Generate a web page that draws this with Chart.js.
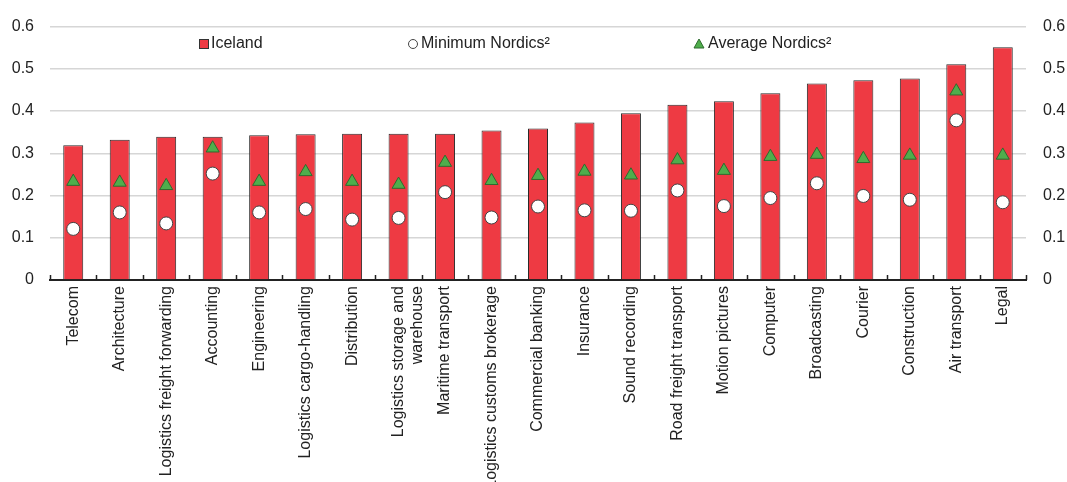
<!DOCTYPE html>
<html>
<head>
<meta charset="utf-8">
<script src="https://cdn.jsdelivr.net/npm/chart.js@4.4.1/dist/chart.umd.min.js"></script>
<style>
  html, body { margin: 0; padding: 0; background: #fff; }
  #wrap { width: 1067px; height: 482px; }
</style>
</head>
<body>
<div id="wrap"><canvas id="chart"></canvas></div>
<script>
// categories, sorted by Iceland value
const sectors = [
  'Telecom', 'Architecture', 'Logistics freight forwarding', 'Accounting', 'Engineering',
  'Logistics cargo-handling', 'Distribution', ['Logistics storage and', 'warehouse'],
  'Maritime transport', 'Logistics customs brokerage', 'Commercial banking', 'Insurance',
  'Sound recording', 'Road freight transport', 'Motion pictures', 'Computer',
  'Broadcasting', 'Courier', 'Construction', 'Air transport', 'Legal'
];
const iceland = [0.319, 0.332, 0.339, 0.339, 0.343, 0.345, 0.346, 0.346, 0.346, 0.354, 0.359,
  0.373, 0.395, 0.415, 0.423, 0.442, 0.465, 0.473, 0.477, 0.511, 0.551];
const minNordics = [0.121, 0.160, 0.134, 0.252, 0.160, 0.168, 0.143, 0.147, 0.208, 0.148, 0.174,
  0.165, 0.164, 0.212, 0.175, 0.194, 0.229, 0.199, 0.190, 0.378, 0.184];
const avgNordics = [0.233, 0.231, 0.223, 0.312, 0.233, 0.256, 0.233, 0.226, 0.278, 0.235, 0.247,
  0.257, 0.248, 0.284, 0.259, 0.292, 0.297, 0.287, 0.295, 0.447, 0.295];
const yMin = 0, yMax = 0.6, yStep = 0.1;

const FONT = "'Liberation Sans Narrow', 'Arial Narrow', 'Liberation Sans', Arial, sans-serif";
const RED = '#ee3a43';
const GREEN = '#4fae4c';
Chart.defaults.font.family = FONT;
Chart.defaults.color = '#222';

// small up-ticks on the x axis at category boundaries
const boundaryTicks = {
  id: 'boundaryTicks',
  afterDraw(chart) {
    const x = chart.scales.x, ctx = chart.ctx;
    const n = sectors.length, w = (x.right - x.left) / n;
    ctx.save();
    ctx.strokeStyle = '#222';
    ctx.lineWidth = 1.5;
    ctx.beginPath();
    for (let i = 0; i <= n; i++) {
      const px = Math.round(x.left + i * w) + 0.5;
      ctx.moveTo(px, x.top);
      ctx.lineTo(px, x.top - 5);
    }
    ctx.stroke();
    ctx.restore();
  }
};

// legend laid out inside the plot, between the top gridlines
const innerLegend = {
  id: 'innerLegend',
  afterDraw(chart) {
    const ctx = chart.ctx, y = 44;
    ctx.save();
    ctx.font = '16px ' + FONT;
    ctx.textBaseline = 'middle';
    // Iceland
    ctx.fillStyle = RED; ctx.strokeStyle = '#333'; ctx.lineWidth = 1;
    ctx.fillRect(199, y - 5, 10, 10); ctx.strokeRect(199.5, y - 4.5, 9, 9);
    ctx.fillStyle = '#222'; ctx.fillText('Iceland', 211, y);
    // Minimum Nordics
    ctx.beginPath(); ctx.arc(413, y, 4.5, 0, Math.PI * 2);
    ctx.fillStyle = '#fff'; ctx.fill(); ctx.strokeStyle = '#444'; ctx.stroke();
    ctx.fillStyle = '#222'; ctx.fillText('Minimum Nordics²', 421, y);
    // Average Nordics
    ctx.beginPath(); ctx.moveTo(699, y - 5); ctx.lineTo(704, y + 4); ctx.lineTo(694, y + 4); ctx.closePath();
    ctx.fillStyle = GREEN; ctx.fill(); ctx.strokeStyle = '#2e6b2e'; ctx.stroke();
    ctx.fillStyle = '#222'; ctx.fillText('Average Nordics²', 708, y);
    ctx.restore();
  }
};

const tickLabel = v => String(+v.toFixed(1));

new Chart(document.getElementById('chart'), {
  data: {
    labels: sectors,
    datasets: [
      {
        type: 'bar', label: 'Iceland', data: iceland, order: 3,
        backgroundColor: RED, borderColor: '#2a2a2a', borderWidth: 1,
        barPercentage: 0.43, categoryPercentage: 1
      },
      {
        type: 'line', label: 'Minimum Nordics²', data: minNordics, order: 2, showLine: false,
        pointStyle: 'circle', pointRadius: 6.5, pointBackgroundColor: '#fff',
        pointBorderColor: '#444', pointBorderWidth: 1
      },
      {
        type: 'line', label: 'Average Nordics²', data: avgNordics, order: 1, showLine: false,
        pointStyle: 'triangle', pointRadius: 7.5, pointBackgroundColor: GREEN,
        pointBorderColor: '#2e6b2e', pointBorderWidth: 1
      }
    ]
  },
  options: {
    responsive: true,
    maintainAspectRatio: false,
    animation: false,
    layout: { padding: { top: 17, left: 0, right: 0, bottom: 0 } },
    plugins: { legend: { display: false }, tooltip: { enabled: false } },
    scales: {
      x: {
        offset: true,
        grid: { display: false, drawTicks: false },
        border: { display: true, color: '#222', width: 2 },
        ticks: { autoSkip: false, minRotation: 90, maxRotation: 90, padding: 6, font: { size: 16 }, color: '#222' },
        afterFit: s => { s.height = 202; }
      },
      y: {
        position: 'left', min: yMin, max: yMax,
        grid: { color: '#d6d6d6', lineWidth: 1.5, drawTicks: false },
        border: { display: false },
        ticks: { stepSize: yStep, padding: 16, font: { size: 16 }, color: '#222', callback: tickLabel },
        afterFit: s => { s.width = 50; }
      },
      y2: {
        position: 'right', min: yMin, max: yMax,
        grid: { display: false, drawTicks: false },
        border: { display: false },
        ticks: { stepSize: yStep, padding: 17, font: { size: 16 }, color: '#222', callback: tickLabel },
        afterFit: s => { s.width = 41; }
      }
    }
  },
  plugins: [boundaryTicks, innerLegend]
});
</script>
</body>
</html>
